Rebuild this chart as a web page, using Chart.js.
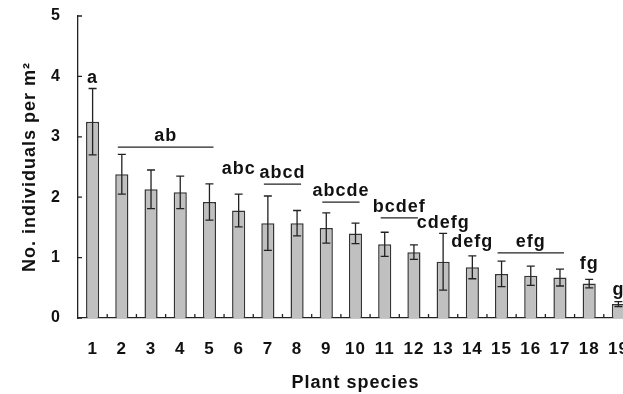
<!DOCTYPE html>
<html>
<head>
<meta charset="utf-8">
<script src="https://cdn.jsdelivr.net/npm/chart.js@4.4.0/dist/chart.umd.min.js"></script>
<style>
  html, body { margin: 0; padding: 0; background: #fff; overflow: hidden; }
  #wrap { width: 633px; height: 394px; }
</style>
</head>
<body>
<div id="wrap"><canvas id="barChart"></canvas></div>
<script>
const species = ["1", "2", "3", "4", "5", "6", "7", "8", "9", "10",
  "11", "12", "13", "14", "15", "16", "17", "18", "19"];

const means = [3.25, 2.38, 2.13, 2.08, 1.92, 1.78, 1.57, 1.57, 1.49, 1.40,
  1.22, 1.09, 0.93, 0.84, 0.73, 0.70, 0.67, 0.57, 0.23];

const errors = [0.55, 0.33, 0.32, 0.27, 0.30, 0.27, 0.45, 0.21, 0.25, 0.17,
  0.20, 0.12, 0.47, 0.19, 0.21, 0.16, 0.14, 0.07, 0.04];

const yTicks = [0, 1, 2, 3, 4, 5];

// significance letters: text, first and last bar of the group, height (data units)
const letterText = ["a", "ab", "abc", "abcd", "abcde", "bcdef", "cdefg", "defg", "efg", "fg", "g"];
const letterFrom = [0, 1, 5, 6, 8, 10, 12, 13, 14, 17, 18];
const letterTo = [0, 4, 5, 7, 9, 11, 12, 13, 16, 17, 18];
const letterLevel = [3.97, 3.01, 2.46, 2.40, 2.10, 1.84, 1.57, 1.25, 1.26, 0.90, 0.47];

const font = "'Liberation Sans', Arial, sans-serif";

const extras = {
  id: "extras",
  beforeLayout(chart) {
    chart.ctx.letterSpacing = "1px";
  },
  afterDatasetsDraw(chart) {
    const ctx = chart.ctx;
    const x = chart.scales.x;
    const y = chart.scales.y;
    const area = chart.chartArea;
    const step = x.getPixelForValue(1) - x.getPixelForValue(0);

    ctx.save();
    ctx.strokeStyle = "#222";
    ctx.lineWidth = 1.3;

    // error bars
    means.forEach((m, i) => {
      const px = x.getPixelForValue(i);
      const top = y.getPixelForValue(m + errors[i]);
      const bot = y.getPixelForValue(m - errors[i]);
      ctx.beginPath();
      ctx.moveTo(px, top);
      ctx.lineTo(px, bot);
      ctx.moveTo(px - 4, top);
      ctx.lineTo(px + 4, top);
      ctx.moveTo(px - 4, bot);
      ctx.lineTo(px + 4, bot);
      ctx.stroke();
    });

    // inward ticks
    ctx.beginPath();
    yTicks.forEach(v => {
      const py = y.getPixelForValue(v);
      ctx.moveTo(area.left, py);
      ctx.lineTo(area.left + 4, py);
    });
    species.forEach((s, i) => {
      const px = x.getPixelForValue(i) + step / 2;
      ctx.moveTo(px, area.bottom);
      ctx.lineTo(px, area.bottom - 4);
    });
    ctx.stroke();

    // letters and group lines
    ctx.fillStyle = "#111";
    ctx.font = "bold 18px " + font;
    ctx.letterSpacing = "1px";
    ctx.textAlign = "center";
    ctx.textBaseline = "middle";
    letterText.forEach((t, i) => {
      const x0 = x.getPixelForValue(letterFrom[i]);
      const x1 = x.getPixelForValue(letterTo[i]);
      const py = y.getPixelForValue(letterLevel[i]);
      ctx.fillText(t, (x0 + x1) / 2, py);
      if (letterTo[i] > letterFrom[i]) {
        ctx.beginPath();
        ctx.moveTo(x0 - 4, py + 11);
        ctx.lineTo(x1 + 4, py + 11);
        ctx.stroke();
      }
    });
    ctx.restore();
  }
};

new Chart(document.getElementById("barChart"), {
  type: "bar",
  data: {
    labels: species,
    datasets: [{
      data: means,
      backgroundColor: "#c0c0c0",
      borderColor: "#333",
      borderWidth: 1.5,
      barPercentage: 0.45,
      categoryPercentage: 1
    }]
  },
  options: {
    responsive: true,
    maintainAspectRatio: false,
    animation: false,
    layout: { padding: { top: 16, left: 0, right: 0, bottom: 0 } },
    plugins: {
      legend: { display: false },
      tooltip: { enabled: false }
    },
    scales: {
      x: {
        grid: { display: false, drawTicks: true, tickLength: 21 },
        border: { display: true, color: "#222", width: 1.3 },
        ticks: {
          color: "#111",
          padding: 0,
          maxRotation: 0,
          autoSkip: false,
          font: { family: font, size: 17, weight: "bold" }
        },
        title: {
          display: true,
          text: "Plant species",
          color: "#111",
          padding: { top: 4, bottom: 0 },
          font: { family: font, size: 18, weight: "bold" }
        },
        afterFit(scale) { scale.height = 76; }
      },
      y: {
        min: 0,
        max: 5,
        afterBuildTicks(scale) { scale.ticks = yTicks.map(v => ({ value: v })); },
        grid: { display: false, drawTicks: true, tickLength: 17 },
        border: { display: true, color: "#222", width: 1.3 },
        ticks: {
          color: "#111",
          padding: 0,
          font: { family: font, size: 16, weight: "bold" }
        },
        title: {
          display: true,
          text: "No. individuals per m²",
          color: "#111",
          padding: { top: 19, bottom: 0 },
          font: { family: font, size: 18, weight: "bold" }
        },
        afterFit(scale) { scale.width = 78; }
      }
    }
  },
  plugins: [extras]
});
</script>
</body>
</html>
